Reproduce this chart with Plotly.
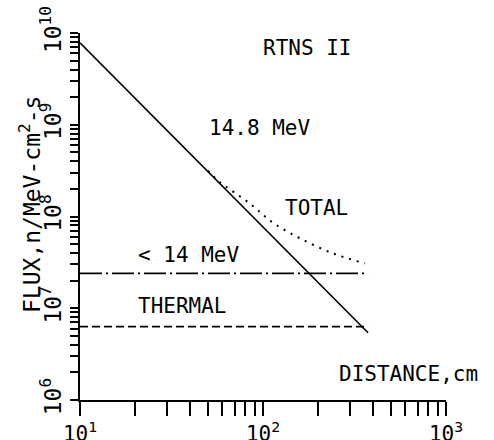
import plotly.graph_objects as go

# Neutron flux vs. distance from the RTNS II source
distance_range = [10, 375]                 # cm
flux_14_8_mev = [7.8e9, 5.4e6]             # 1/r^2 fall-off of the 14.8 MeV line
flux_below_14 = [2.4e7, 2.4e7]             # < 14 MeV component
flux_thermal = [6.3e6, 6.3e6]              # thermal component
total_distance = [50, 58, 85, 113, 159, 241, 361]
total_flux = [3.15e8, 2.38e8, 1.38e8, 8.6e7, 5.8e7, 3.96e7, 3.08e7]

x_decades = [1, 2, 3]
y_decades = [6, 7, 8, 9, 10]

FONT = "DejaVu Sans Mono"
INK = "black"

# plot-area box in pixels (left, right, top, bottom)
L, R, T, B = 80, 446, 33, 400
W, H = 494, 440


def log_ticks(decades):
    """Tick values for every 1..9 multiple, labels only on powers of ten."""
    vals, text = [], []
    for d in decades:
        for m in range(1, 10):
            if d == decades[-1] and m > 1:
                break
            vals.append(m * 10 ** d)
            text.append(f"10<sup>{d}</sup>" if m == 1 else " ")
    return vals, text


x_tick_vals, x_tick_text = log_ticks(x_decades)
y_tick_vals, y_tick_text = log_ticks(y_decades)

fig = go.Figure()
fig.add_trace(go.Scatter(x=distance_range, y=flux_14_8_mev, mode="lines",
                         line=dict(color=INK, width=1.6)))
fig.add_trace(go.Scatter(x=distance_range, y=flux_below_14, mode="lines",
                         line=dict(color=INK, width=1.6, dash="22px,4px,2px,4px")))
fig.add_trace(go.Scatter(x=distance_range, y=flux_thermal, mode="lines",
                         line=dict(color=INK, width=1.6, dash="8px,4px")))
fig.add_trace(go.Scatter(x=total_distance, y=total_flux, mode="lines",
                         line=dict(color=INK, width=2, dash="2px,6px", shape="spline")))


def px_to_paper(px, py):
    return (px - L) / (R - L), (B - py) / (B - T)


labels = [
    ("RTNS II", 307, 48),
    ("14.8 MeV", 260, 128),
    ("TOTAL", 316, 208),
    ("< 14 MeV", 189, 255),
    ("THERMAL", 182, 306),
    ("DISTANCE,cm", 408, 374),
]
for text, px, py in labels:
    ax, ay = px_to_paper(px, py)
    fig.add_annotation(text=text, x=ax, y=ay, xref="paper", yref="paper",
                       showarrow=False, font=dict(family=FONT, size=21, color=INK),
                       xanchor="center", yanchor="middle")

tx, ty = px_to_paper(30, 205)
fig.add_annotation(text="FLUX,n/MeV-cm<sup>2</sup>-s", x=tx, y=ty,
                   xref="paper", yref="paper", showarrow=False, textangle=-90,
                   font=dict(family=FONT, size=23, color=INK),
                   xanchor="center", yanchor="middle")

axis_common = dict(type="log", showgrid=False, zeroline=False, showline=True,
                   linecolor=INK, linewidth=2, ticks="outside", tickcolor=INK,
                   tickwidth=2, mirror=False, tickmode="array")

fig.update_xaxes(range=[1, 3], tickvals=x_tick_vals, ticktext=x_tick_text,
                 tickangle=0, ticklen=14,
                 tickfont=dict(family=FONT, size=21, color=INK), **axis_common)
fig.update_yaxes(range=[6, 10], tickvals=y_tick_vals, ticktext=y_tick_text,
                 tickangle=-90, ticklen=8,
                 tickfont=dict(family=FONT, size=23, color=INK), **axis_common)

fig.update_layout(width=W, height=H, margin=dict(l=L, r=W - R, t=T, b=H - B,
                                                 autoexpand=False),
                  paper_bgcolor="white", plot_bgcolor="white", showlegend=False,
                  font=dict(family=FONT, color=INK))

fig.write_html("out.html")
